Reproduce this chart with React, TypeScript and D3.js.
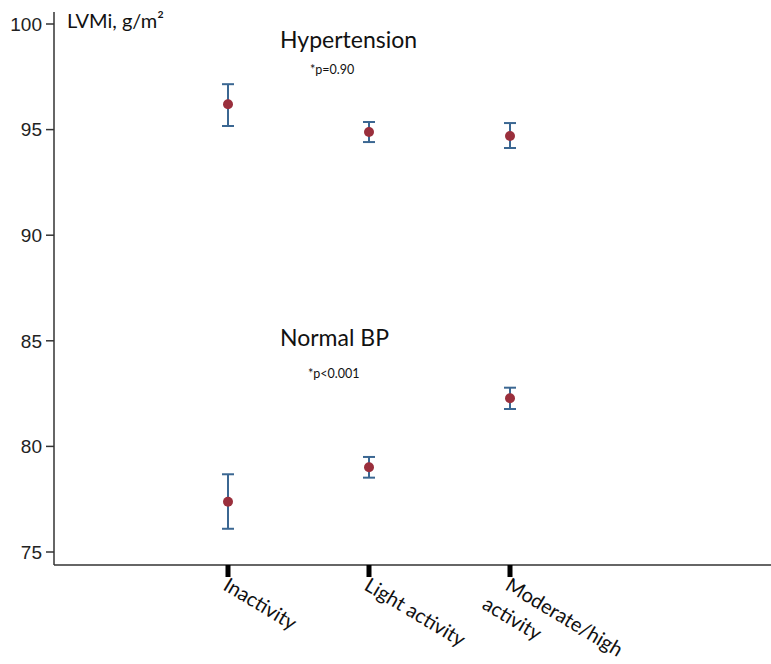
import React from "react";
import * as d3 from "d3";

const categories = ["Inactivity", "Light activity", "Moderate/high activity"];
const categoryLines = [["Inactivity"], ["Light activity"], ["Moderate/high", "activity"]];

const hyperMean = [96.2, 94.89, 94.7];
const hyperLow = [95.17, 94.41, 94.13];
const hyperHigh = [97.15, 95.36, 95.31];

const normalMean = [77.38, 79.01, 82.28];
const normalLow = [76.1, 78.52, 81.77];
const normalHigh = [78.68, 79.5, 82.78];

const yTicks = [75, 80, 85, 90, 95, 100];

const W = 771;
const H = 664;
const axisX = 54;
const axisY = 565;

const y = d3.scaleLinear().domain([75, 100]).range([552, 24]);
const x = d3.scalePoint<string>().domain(categories).range([228, 510]);

const errColor = "#3b6792";
const dotColor = "#9a2f3c";
const labelFont = "Lato, 'Open Sans', sans-serif";

function Series({ mean, low, high }: { mean: number[]; low: number[]; high: number[] }) {
  return (
    <g>
      {categories.map((c, i) => {
        const cx = x(c) as number;
        return (
          <g key={c}>
            <line x1={cx} x2={cx} y1={y(low[i])} y2={y(high[i])} stroke={errColor} strokeWidth={2} />
            <line x1={cx - 6} x2={cx + 6} y1={y(low[i])} y2={y(low[i])} stroke={errColor} strokeWidth={2} />
            <line x1={cx - 6} x2={cx + 6} y1={y(high[i])} y2={y(high[i])} stroke={errColor} strokeWidth={2} />
            <circle cx={cx} cy={y(mean[i])} r={5} fill={dotColor} />
          </g>
        );
      })}
    </g>
  );
}

export default function App() {
  return (
    <div style={{ position: "absolute", left: 0, top: 0 }}>
      <svg width={W} height={H} style={{ display: "block", background: "#fff" }}>
        {/* axes */}
        <line x1={axisX} x2={axisX} y1={12} y2={axisY} stroke="#333" strokeWidth={1.5} />
        <line x1={axisX} x2={W} y1={axisY} y2={axisY} stroke="#333" strokeWidth={1.5} />
        {yTicks.map((t) => (
          <g key={t}>
            <line x1={axisX - 8} x2={axisX} y1={y(t)} y2={y(t)} stroke="#333" strokeWidth={1.5} />
            <text
              x={axisX - 12}
              y={y(t)}
              dy="0.36em"
              textAnchor="end"
              fontFamily="'Liberation Sans', Arial, sans-serif"
              fontSize={19}
              fill="#222"
            >
              {t}
            </text>
          </g>
        ))}
        {categories.map((c, i) => {
          const cx = x(c) as number;
          return (
            <g key={c}>
              <rect x={cx - 2.5} y={axisY} width={5} height={12} fill="#000" />
              <text
                transform={`translate(${cx - 6},${axisY + 24}) rotate(31)`}
                fontFamily={labelFont}
                fontSize={20}
                fill="#111"
              >
                {categoryLines[i].map((s, j) => (
                  <tspan key={j} x={j * -10} dy={j === 0 ? 0 : 28}>
                    {s}
                  </tspan>
                ))}
              </text>
            </g>
          );
        })}

        {/* labels */}
        <text x={67} y={28} fontFamily={labelFont} fontSize={20} fill="#111">
          LVMi, g/m²
        </text>
        <text x={280} y={48} fontFamily={labelFont} fontSize={23} fill="#111">
          Hypertension
        </text>
        <text x={310} y={74} fontFamily={labelFont} fontSize={12.5} fill="#111">
          *p=0.90
        </text>
        <text x={280} y={346} fontFamily={labelFont} fontSize={23} fill="#111">
          Normal BP
        </text>
        <text x={308} y={378} fontFamily={labelFont} fontSize={12.5} fill="#111">
          *p&lt;0.001
        </text>

        <Series mean={hyperMean} low={hyperLow} high={hyperHigh} />
        <Series mean={normalMean} low={normalLow} high={normalHigh} />
      </svg>
    </div>
  );
}
